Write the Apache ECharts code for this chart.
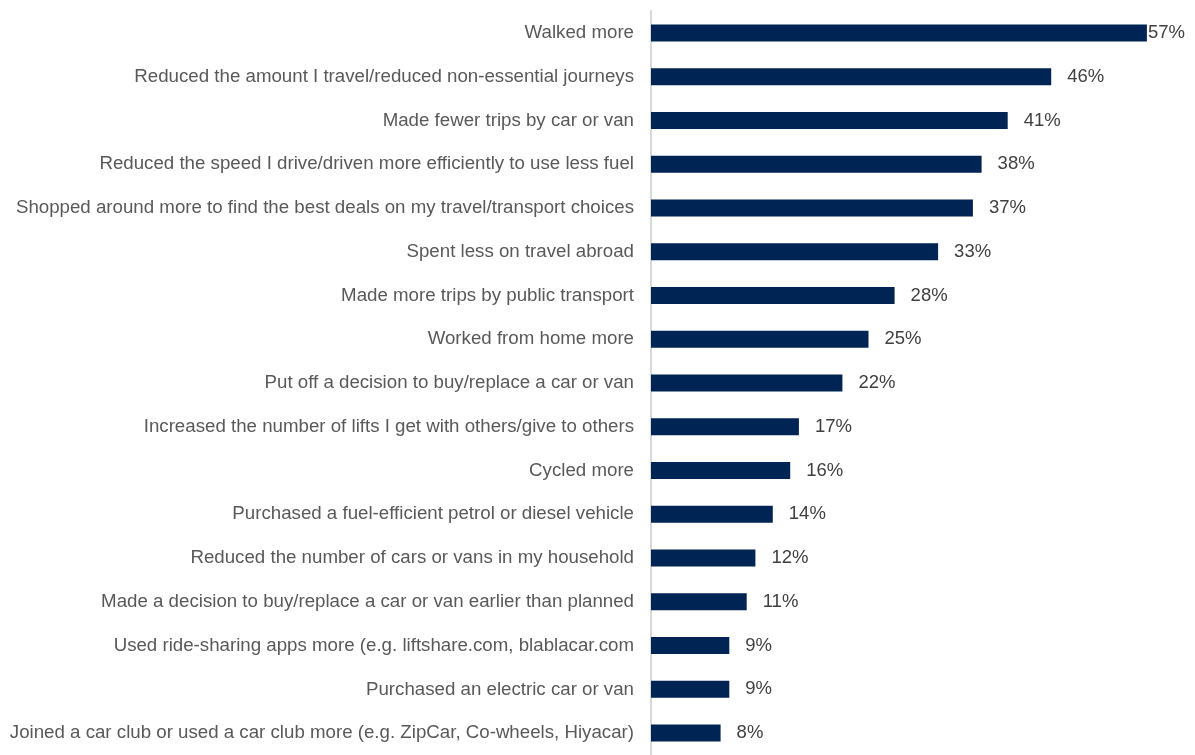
<!DOCTYPE html>
<html>
<head>
<meta charset="utf-8">
<script src="https://cdn.jsdelivr.net/npm/echarts@6/dist/echarts.min.js"></script>
<style>html,body{margin:0;padding:0;background:#fff}#c{width:1195px;height:755px}</style>
</head>
<body>
<div id="c"></div>
<script>
const categories = [
  "Walked more",
  "Reduced the amount I travel/reduced non-essential journeys",
  "Made fewer trips by car or van",
  "Reduced the speed I drive/driven more efficiently to use less fuel",
  "Shopped around more to find the best deals on my travel/transport choices",
  "Spent less on travel abroad",
  "Made more trips by public transport",
  "Worked from home more",
  "Put off a decision to buy/replace a car or van",
  "Increased the number of lifts I get with others/give to others",
  "Cycled more",
  "Purchased a fuel-efficient petrol or diesel vehicle",
  "Reduced the number of cars or vans in my household",
  "Made a decision to buy/replace a car or van earlier than planned",
  "Used ride-sharing apps more (e.g. liftshare.com, blablacar.com",
  "Purchased an electric car or van",
  "Joined a car club or used a car club more (e.g. ZipCar, Co-wheels, Hiyacar)"
];
const values = [57, 46, 41, 38, 37, 33, 28, 25, 22, 17, 16, 14, 12, 11, 9, 9, 8];

const maxVal = Math.max(...values);
const chart = echarts.init(document.getElementById('c'), null, {renderer: 'canvas'});
chart.setOption({
  animation: false,
  grid: {left: 651, right: 22, top: 11, bottom: -8, containLabel: false},
  xAxis: {type: 'value', min: 0, max: 60, show: false},
  yAxis: {
    type: 'category', inverse: true, data: categories,
    axisLine: {show: true, lineStyle: {color: '#d9d9d9', width: 2}},
    axisTick: {show: false},
    axisLabel: {color: '#595959', fontSize: 18.7, fontFamily: 'Liberation Sans, Arial, sans-serif', margin: 17, padding: [2, 0, 0, 0]}
  },
  series: [{
    type: 'bar',
    barWidth: 17,
    itemStyle: {color: '#002454'},
    data: values.map(v => ({
      value: v,
      label: {distance: v === maxVal ? 1 : 16}
    })),
    label: {
      show: true, position: 'right', formatter: '{c}%',
      color: '#404040', fontSize: 18.5, fontFamily: 'Liberation Sans, Arial, sans-serif', padding: [2, 0, 0, 0]
    }
  }]
});
</script>
</body>
</html>
